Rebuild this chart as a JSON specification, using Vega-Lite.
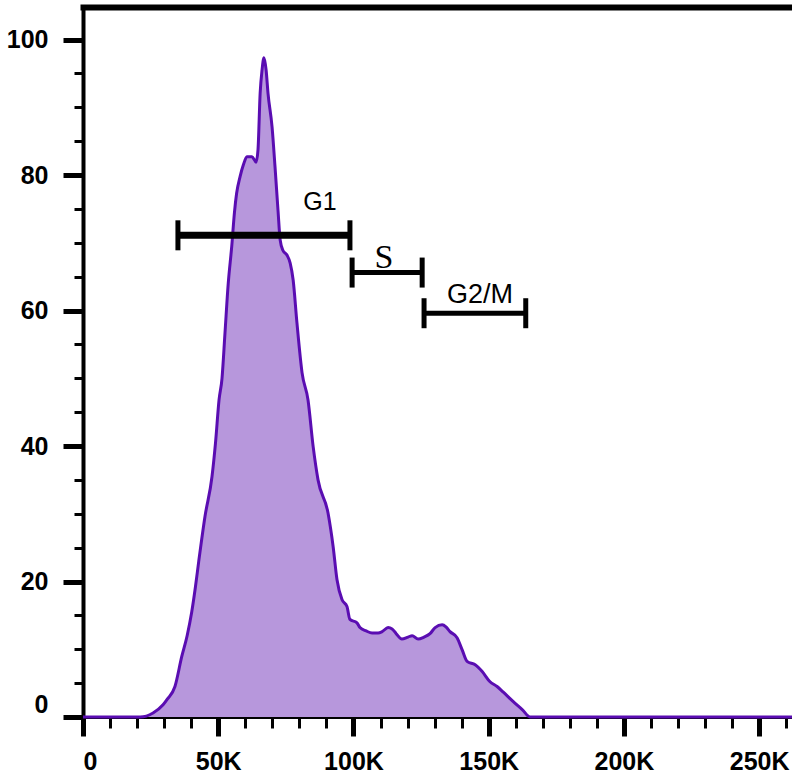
{
  "$schema": "https://vega.github.io/schema/vega-lite/v6.json",
  "width": 709,
  "height": 710,
  "autosize": "none",
  "padding": {"left": 83, "top": 7, "right": 0, "bottom": 61},
  "background": "white",
  "config": {
    "view": {"stroke": null},
    "axis": {
      "grid": false,
      "zindex": 1,
      "domainColor": "black",
      "tickColor": "black",
      "labelColor": "black",
      "labelFont": "Liberation Sans",
      "labelFontWeight": "bold",
      "labelFontSize": 25,
      "title": null
    }
  },
  "datasets": {
    "curve": [
      {"fl": 0, "count": 0},
      {"fl": 21100, "count": 0},
      {"fl": 25900, "count": 0.6},
      {"fl": 29600, "count": 1.8},
      {"fl": 31100, "count": 2.6},
      {"fl": 34000, "count": 4.5},
      {"fl": 36500, "count": 8.9},
      {"fl": 38500, "count": 12.0},
      {"fl": 40200, "count": 15.5},
      {"fl": 41500, "count": 19.0},
      {"fl": 42800, "count": 23.0},
      {"fl": 45100, "count": 29.6},
      {"fl": 47700, "count": 35.5},
      {"fl": 49000, "count": 40.5},
      {"fl": 50300, "count": 46.8},
      {"fl": 51400, "count": 50.0},
      {"fl": 52500, "count": 56.7},
      {"fl": 53700, "count": 64.0},
      {"fl": 55000, "count": 69.5},
      {"fl": 56000, "count": 74.5},
      {"fl": 56800, "count": 77.3},
      {"fl": 58100, "count": 79.8},
      {"fl": 59300, "count": 81.5},
      {"fl": 60600, "count": 82.7},
      {"fl": 62500, "count": 82.7},
      {"fl": 64000, "count": 81.9},
      {"fl": 64700, "count": 83.7},
      {"fl": 65500, "count": 92.1},
      {"fl": 66200, "count": 95.5},
      {"fl": 66900, "count": 97.3},
      {"fl": 67700, "count": 95.5},
      {"fl": 68400, "count": 92.1},
      {"fl": 69900, "count": 87.1},
      {"fl": 71000, "count": 81.2},
      {"fl": 72100, "count": 74.8},
      {"fl": 72900, "count": 70.4},
      {"fl": 73900, "count": 68.9},
      {"fl": 75400, "count": 68.2},
      {"fl": 76600, "count": 67.0},
      {"fl": 77700, "count": 64.5},
      {"fl": 79100, "count": 58.2},
      {"fl": 81000, "count": 50.8},
      {"fl": 83200, "count": 46.8},
      {"fl": 85100, "count": 39.9},
      {"fl": 86900, "count": 35.0},
      {"fl": 90600, "count": 30.1},
      {"fl": 92500, "count": 25.1},
      {"fl": 93900, "count": 20.3},
      {"fl": 95800, "count": 17.3},
      {"fl": 97600, "count": 16.3},
      {"fl": 98700, "count": 14.4},
      {"fl": 101300, "count": 13.9},
      {"fl": 102400, "count": 13.2},
      {"fl": 104700, "count": 12.7},
      {"fl": 106900, "count": 12.4},
      {"fl": 109100, "count": 12.4},
      {"fl": 110600, "count": 12.6},
      {"fl": 112800, "count": 13.2},
      {"fl": 114300, "count": 13.0},
      {"fl": 115800, "count": 12.3},
      {"fl": 117900, "count": 11.5},
      {"fl": 120200, "count": 11.8},
      {"fl": 121700, "count": 12.0},
      {"fl": 123900, "count": 11.5},
      {"fl": 126100, "count": 11.8},
      {"fl": 128300, "count": 12.3},
      {"fl": 130200, "count": 13.2},
      {"fl": 132800, "count": 13.6},
      {"fl": 134200, "count": 13.3},
      {"fl": 135700, "count": 12.6},
      {"fl": 138300, "count": 11.7},
      {"fl": 140200, "count": 9.9},
      {"fl": 142000, "count": 8.2},
      {"fl": 145000, "count": 7.7},
      {"fl": 147600, "count": 6.7},
      {"fl": 150500, "count": 5.2},
      {"fl": 153100, "count": 4.5},
      {"fl": 155300, "count": 3.7},
      {"fl": 159000, "count": 2.3},
      {"fl": 162400, "count": 1.1},
      {"fl": 165300, "count": 0},
      {"fl": 262144, "count": 0}
    ],
    "gates": [
      {"gate": "G1", "from": 35100, "to": 98700, "level": 71.1},
      {"gate": "S", "from": 99500, "to": 125400, "level": 65.6},
      {"gate": "G2/M", "from": 126100, "to": 163700, "level": 59.6}
    ],
    "labels": [
      {"label": "G1", "fl": 87600, "level": 74.9},
      {"label": "S", "fl": 111300, "level": 66.3},
      {"label": "G2/M", "fl": 146800, "level": 61.1}
    ]
  },
  "layer": [
    {
      "data": {"name": "curve"},
      "mark": {"type": "area", "color": "#b797dc", "opacity": 1, "interpolate": "monotone"},
      "encoding": {
        "x": {
          "field": "fl", "type": "quantitative",
          "scale": {"domain": [0, 262144], "nice": false, "zero": false},
          "axis": {
            "orient": "bottom",
            "values": [0, 50000, 100000, 150000, 200000, 250000],
            "labelExpr": "datum.value == 0 ? '0' : (datum.value / 1000) + 'K'",
            "tickSize": 19, "tickWidth": 5, "domainWidth": 3,
            "labelPadding": 13, "labelFlush": true
          }
        },
        "y": {
          "field": "count", "type": "quantitative",
          "scale": {"domain": [0, 104.8], "nice": false},
          "axis": {
            "orient": "left",
            "values": [0, 20, 40, 60, 80, 100],
            "tickSize": 20, "tickWidth": 5, "domainWidth": 4,
            "labelPadding": 15, "labelFlush": true
          }
        }
      }
    },
    {
      "data": {"name": "curve"},
      "mark": {"type": "line", "color": "#5a0db2", "strokeWidth": 3, "interpolate": "monotone"},
      "encoding": {
        "x": {
          "field": "fl", "type": "quantitative",
          "axis": {
            "orient": "bottom",
            "values": [0, 10000, 20000, 30000, 40000, 50000, 60000, 70000, 80000, 90000, 100000, 110000, 120000, 130000, 140000, 150000, 160000, 170000, 180000, 190000, 200000, 210000, 220000, 230000, 240000, 250000, 260000],
            "labels": false, "domain": false, "tickSize": 11, "tickWidth": 3
          }
        },
        "y": {
          "field": "count", "type": "quantitative",
          "axis": {
            "orient": "left",
            "values": [0, 5, 10, 15, 20, 25, 30, 35, 40, 45, 50, 55, 60, 65, 70, 75, 80, 85, 90, 95, 100],
            "labels": false, "domain": false, "tickSize": 9, "tickWidth": 3
          }
        }
      }
    },
    {
      "data": {"name": "gates"},
      "transform": [{"filter": "datum.gate == 'G1'"}],
      "mark": {"type": "rule", "color": "black", "strokeWidth": 7},
      "encoding": {
        "x": {
          "field": "from", "type": "quantitative",
          "axis": {"orient": "top", "labels": false, "ticks": false, "domain": true, "domainWidth": 6, "domainCap": "square"}
        },
        "x2": {"field": "to"},
        "y": {"field": "level", "type": "quantitative", "axis": null}
      }
    },
    {
      "data": {"name": "gates"},
      "transform": [{"filter": "datum.gate != 'G1'"}],
      "mark": {"type": "rule", "color": "black", "strokeWidth": 5},
      "encoding": {
        "x": {"field": "from", "type": "quantitative", "axis": null},
        "x2": {"field": "to"},
        "y": {"field": "level", "type": "quantitative", "axis": null}
      }
    },
    {
      "data": {"name": "gates"},
      "transform": [{"fold": ["from", "to"], "as": ["end", "pos"]}],
      "mark": {"type": "tick", "orient": "vertical", "color": "black", "size": 30, "thickness": 5, "opacity": 1},
      "encoding": {
        "x": {"field": "pos", "type": "quantitative", "axis": null},
        "y": {"field": "level", "type": "quantitative", "axis": null}
      }
    },
    {
      "data": {"name": "labels"},
      "transform": [{"filter": "datum.label == 'G1'"}],
      "mark": {"type": "text", "font": "Liberation Sans", "fontSize": 25, "align": "center", "baseline": "alphabetic", "color": "black"},
      "encoding": {
        "x": {"field": "fl", "type": "quantitative", "axis": null},
        "y": {"field": "level", "type": "quantitative", "axis": null},
        "text": {"field": "label"}
      }
    },
    {
      "data": {"name": "labels"},
      "transform": [{"filter": "datum.label == 'S'"}],
      "mark": {"type": "text", "font": "Liberation Serif", "fontSize": 34, "align": "center", "baseline": "alphabetic", "color": "black"},
      "encoding": {
        "x": {"field": "fl", "type": "quantitative", "axis": null},
        "y": {"field": "level", "type": "quantitative", "axis": null},
        "text": {"field": "label"}
      }
    },
    {
      "data": {"name": "labels"},
      "transform": [{"filter": "datum.label == 'G2/M'"}],
      "mark": {"type": "text", "font": "Liberation Sans", "fontSize": 27, "align": "center", "baseline": "alphabetic", "color": "black"},
      "encoding": {
        "x": {"field": "fl", "type": "quantitative", "axis": null},
        "y": {"field": "level", "type": "quantitative", "axis": null},
        "text": {"field": "label"}
      }
    }
  ],
  "resolve": {"axis": {"x": "independent", "y": "independent"}}
}
